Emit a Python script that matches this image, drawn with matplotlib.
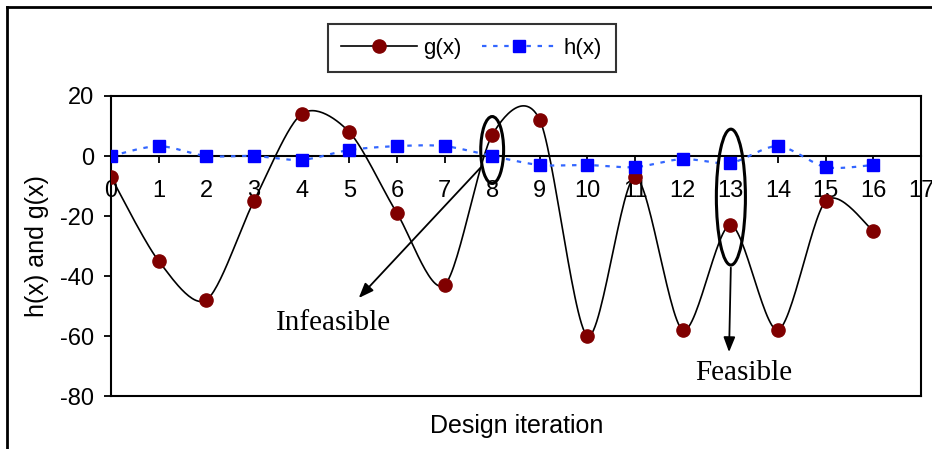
import numpy as np
import matplotlib
matplotlib.use("Agg")
import matplotlib.pyplot as plt
from matplotlib.patches import Ellipse
from matplotlib.lines import Line2D

plt.rcParams['font.family'] = ['Liberation Sans', 'DejaVu Sans']
plt.rcParams['axes.unicode_minus'] = False

# data
iterations = list(range(17))
g_vals = [-7, -35, -48, -15, 14, 8, -19, -43, 7, 12, -60, -7, -58, -23, -58, -15, -25]
h_vals = [0, 3.3, 0, 0, -1.3, 2, 3.3, 3.3, 0, -3, -3, -3.7, -1, -2.3, 3.3, -3.7, -3]
x_ticks = list(range(18))
y_ticks = [-80, -60, -40, -20, 0, 20]


def smooth(x, y, n=30, k=1 / 7):
    # Excel-style smoothed line through the points
    pts = np.column_stack([x, y]).astype(float)
    out = []
    for i in range(len(pts) - 1):
        p0 = pts[i - 1] if i > 0 else pts[i]
        p1 = pts[i]
        p2 = pts[i + 1]
        p3 = pts[i + 2] if i + 2 < len(pts) else pts[i + 1]
        c1 = p1 + (p2 - p0) * k
        c2 = p2 - (p3 - p1) * k
        t = np.linspace(0, 1, n)[:, None]
        seg = ((1 - t) ** 3) * p1 + 3 * ((1 - t) ** 2) * t * c1 + 3 * (1 - t) * t ** 2 * c2 + t ** 3 * p2
        out.append(seg if i == 0 else seg[1:])
    out = np.vstack(out)
    return out[:, 0], out[:, 1]


fig = plt.figure(figsize=(9.32, 4.49), dpi=100)
ax = fig.add_axes([0.1191, 0.1180, 0.8691, 0.6682])

gx, gy = smooth(iterations, g_vals)
hx, hy = smooth(iterations, h_vals)
ax.plot(gx, gy, color='black', lw=1.2, zorder=3)
ax.plot(hx, hy, color='#3366ff', lw=1.6, linestyle=(0, (2, 3)), zorder=3)
ax.plot(iterations, g_vals, linestyle='none', marker='o', ms=9.5,
        color='#800000', zorder=4)
ax.plot(iterations, h_vals, linestyle='none', marker='s', ms=9,
        color='#0000ff', zorder=5)

ax.set_xlim(0, 17)
ax.set_ylim(-80, 20)
ax.set_xticks(x_ticks)
ax.set_yticks(y_ticks)

ax.spines['bottom'].set_position(('data', 0))
for s in ax.spines.values():
    s.set_linewidth(1.5)
ax.axhline(-80, color='black', lw=1.5, clip_on=False, zorder=6)
ax.tick_params(axis='x', direction='out', length=5, width=1.3, pad=12, labelsize=17)
ax.tick_params(axis='y', direction='out', length=5, width=1.3, pad=7, labelsize=17)

ax.set_ylabel('h(x) and g(x)', fontsize=18, labelpad=8)
fig.text(0.554, 0.051, 'Design iteration', fontsize=18, ha='center', va='center')

# annotations
ax.add_patch(Ellipse((8.0, 2.0), 0.48, 22.3, fill=False, lw=2.2, color='black', zorder=6))
ax.add_patch(Ellipse((13.01, -13.7), 0.61, 45.3, fill=False, lw=2.2, color='black', zorder=6))
ax.annotate('', xy=(5.16, -48), xytext=(7.79, -3.3),
            arrowprops=dict(arrowstyle='-|>,head_length=0.9,head_width=0.35',
                            color='black', lw=1.3))
ax.annotate('', xy=(12.97, -66.3), xytext=(13.01, -36.3),
            arrowprops=dict(arrowstyle='-|>,head_length=0.9,head_width=0.35',
                            color='black', lw=1.3))
ax.text(4.66, -55.7, 'Infeasible', fontsize=21, family='Liberation Serif',
        ha='center', va='center')
ax.text(13.28, -72.3, 'Feasible', fontsize=21, family='Liberation Serif',
        ha='center', va='center')

handles = [
    Line2D([], [], color='black', lw=1.2, marker='o', ms=9.5,
           markerfacecolor='#800000', markeredgecolor='#800000'),
    Line2D([], [], color='#3366ff', lw=1.6, linestyle=(0, (2, 3)), marker='s', ms=9,
           markerfacecolor='#0000ff', markeredgecolor='#0000ff'),
]
leg = fig.legend(handles, ['g(x)', 'h(x)'], loc='center', bbox_to_anchor=(0.506, 0.893),
                 ncol=2, fontsize=16, frameon=True, fancybox=False,
                 handlelength=3.4, handletextpad=0.3, columnspacing=0.9,
                 borderpad=0.6, borderaxespad=0.0, edgecolor='black')
leg.get_frame().set_linewidth(1.5)

# outer chart frame (cropped on right and bottom)
fig.add_artist(Line2D([7 / 932, 1.0], [1 - 7 / 449, 1 - 7 / 449],
                      transform=fig.transFigure, color='black', lw=2))
fig.add_artist(Line2D([7 / 932, 7 / 932], [0.0, 1 - 7 / 449],
                      transform=fig.transFigure, color='black', lw=2))

fig.savefig('out.png', dpi=100)
